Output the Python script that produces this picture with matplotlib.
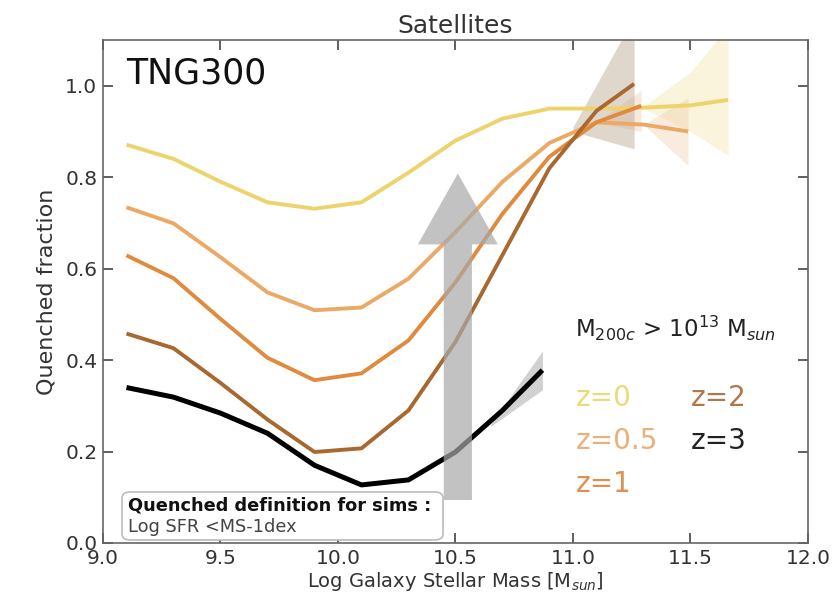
import matplotlib
matplotlib.use("Agg")
import matplotlib.pyplot as plt
from matplotlib.patches import FancyArrow, FancyBboxPatch

# ---- data ----
z0_x = [9.1, 9.3, 9.5, 9.7, 9.9, 10.1, 10.3, 10.5, 10.7, 10.9, 11.1, 11.3, 11.5, 11.66]
z0_y = [0.871, 0.84, 0.79, 0.745, 0.731, 0.745, 0.81, 0.88, 0.928, 0.950, 0.950, 0.952, 0.957, 0.969]

z05_x = [9.1, 9.3, 9.5, 9.7, 9.9, 10.1, 10.3, 10.5, 10.7, 10.9, 11.1, 11.3, 11.49]
z05_y = [0.734, 0.699, 0.625, 0.548, 0.509, 0.515, 0.578, 0.68, 0.79, 0.875, 0.92, 0.915, 0.90]

z1_x = [9.1, 9.3, 9.5, 9.7, 9.9, 10.1, 10.3, 10.5, 10.7, 10.9, 11.1, 11.29]
z1_y = [0.629, 0.579, 0.49, 0.405, 0.356, 0.371, 0.443, 0.57, 0.72, 0.845, 0.92, 0.956]

z2_x = [9.1, 9.3, 9.5, 9.7, 9.9, 10.1, 10.3, 10.5, 10.7, 10.9, 11.1, 11.26]
z2_y = [0.458, 0.426, 0.35, 0.27, 0.199, 0.207, 0.29, 0.44, 0.63, 0.82, 0.945, 1.004]

z3_x = [9.1, 9.3, 9.5, 9.7, 9.9, 10.1, 10.3, 10.5, 10.7, 10.87]
z3_y = [0.34, 0.319, 0.284, 0.24, 0.17, 0.127, 0.138, 0.199, 0.29, 0.378]

# uncertainty bands at the massive end
z0_band_x = [11.3, 11.5, 11.66]
z0_band_lo = [0.95, 0.90, 0.847]
z0_band_hi = [0.955, 1.03, 1.13]
z05_band_x = [11.3, 11.49]
z05_band_lo = [0.915, 0.825]
z05_band_hi = [0.915, 0.974]
z1_band_x = [11.1, 11.29]
z1_band_lo = [0.92, 0.90]
z1_band_hi = [0.92, 0.99]
z2_band_x = [11.0, 11.26]
z2_band_lo = [0.90, 0.862]
z2_band_hi = [0.91, 1.15]
z3_band_x = [10.65, 10.87]
z3_band_lo = [0.255, 0.335]
z3_band_hi = [0.26, 0.42]

labels = ["z=0", "z=0.5", "z=1", "z=2", "z=3"]
colors = ["#edd36c", "#eba965", "#e08a3e", "#a8682f", "#000000"]
label_colors = ["#eadb7a", "#e8b07a", "#df8f4f", "#b07848", "#222222"]

xticks = [9.0, 9.5, 10.0, 10.5, 11.0, 11.5, 12.0]
yticks = [0.0, 0.2, 0.4, 0.6, 0.8, 1.0]

# ---- figure ----
fig = plt.figure(figsize=(8.4, 5.95), dpi=100)
ax = fig.add_axes([0.1226, 0.0874, 0.8393, 0.8454])

series = [(z0_x, z0_y), (z05_x, z05_y), (z1_x, z1_y), (z2_x, z2_y), (z3_x, z3_y)]
bands = [(z0_band_x, z0_band_lo, z0_band_hi), (z05_band_x, z05_band_lo, z05_band_hi),
         (z1_band_x, z1_band_lo, z1_band_hi), (z2_band_x, z2_band_lo, z2_band_hi),
         (z3_band_x, z3_band_lo, z3_band_hi)]
band_colors = ["#f3e2a0", "#efc8a0", "#e9b890", "#b9a48f", "#999999"]
band_alpha = [0.35, 0.35, 0.3, 0.45, 0.45]

for (bx, lo, hi), bc, ba in zip(bands, band_colors, band_alpha):
    ax.fill_between(bx, lo, hi, color=bc, alpha=ba, lw=0, zorder=1)

for (x, y), c in zip(series, colors):
    lw = 3.6 if c == "#000000" else 2.8
    ax.plot(x, y, color=c, lw=lw, zorder=3, solid_capstyle="butt")

# big grey arrow
arrow = FancyArrow(10.51, 0.094, 0, 0.714, width=0.12, head_width=0.34,
                   head_length=0.155, length_includes_head=True,
                   color="#a9a9a9", alpha=0.7, lw=0, zorder=4)
ax.add_patch(arrow)

ax.set_xlim(9.0, 12.0)
ax.set_ylim(0.0, 1.1)
ax.set_xticks(xticks)
ax.set_yticks(yticks)
ax.set_xticklabels([f"{t:.1f}" for t in xticks])
ax.set_yticklabels([f"{t:.1f}" for t in yticks])
ax.tick_params(direction="in", length=7, width=1.2, top=True, right=True,
               labelsize=14.5, colors="#444444", labelcolor="#333333", pad=4)
for s in ax.spines.values():
    s.set_color("#666666")
    s.set_linewidth(1.2)

ax.set_title("Satellites", fontsize=18, color="#333333", pad=5)
ax.set_xlabel("Log Galaxy Stellar Mass [M$_{sun}$]", fontsize=14, color="#333333", labelpad=2)
ax.set_ylabel("Quenched fraction", fontsize=16, color="#333333", labelpad=6)

ax.text(9.1, 1.026, "TNG300", fontsize=25, color="#111111", va="center", ha="left")
ax.text(11.01, 0.469, r"M$_{200c}$ > 10$^{13}$ M$_{sun}$", fontsize=16.5,
        color="#222222", va="center", ha="left")

label_pos = [(11.01, 0.317), (11.01, 0.223), (11.01, 0.129), (11.5, 0.317), (11.5, 0.223)]
for (lx, ly), lab, lc in zip(label_pos, labels, label_colors):
    ax.text(lx, ly, lab, fontsize=20, color=lc, va="center", ha="left")

# definition box
box = FancyBboxPatch((0.027, 0.006), 0.4553, 0.0955, transform=ax.transAxes,
                     boxstyle="round,pad=0,rounding_size=0.012",
                     facecolor="white", edgecolor="#bbbbbb", lw=1.2, zorder=5)
ax.add_patch(box)
ax.text(0.035, 0.0755, "Quenched definition for sims :", transform=ax.transAxes,
        fontsize=12.8, fontweight="bold", color="#111111", va="center", ha="left", zorder=6)
ax.text(0.035, 0.031, "Log SFR <MS-1dex", transform=ax.transAxes,
        fontsize=12.8, color="#444444", va="center", ha="left", zorder=6)

fig.savefig("out.png", dpi=100)
